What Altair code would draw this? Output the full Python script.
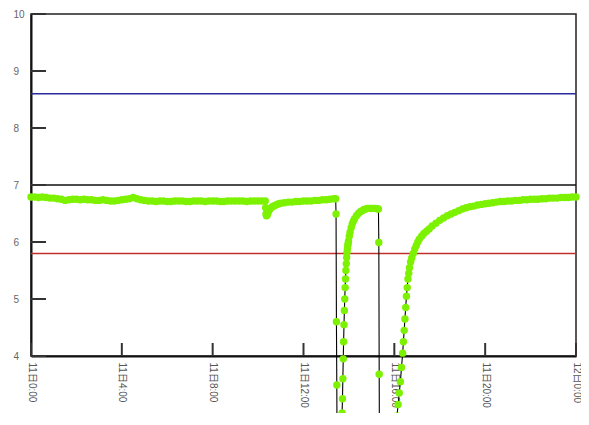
import altair as alt
import pandas as pd

# time in minutes from 11日0:00, dissolved oxygen value
minutes = [
    0, 10, 20, 30, 40, 50, 60, 70, 80, 90, 100, 110, 120, 130, 140, 150, 160, 170, 180, 190,
    200, 210, 220, 230, 240, 250, 260, 270, 280, 290, 300, 310, 320, 330, 340, 350, 360, 370,
    380, 390, 400, 410, 420, 430, 440, 450, 460, 470, 480, 490, 500, 510, 520, 530, 540, 550,
    560, 570, 580, 590, 600, 610, 619,
    620, 621, 622, 624, 626, 628, 632, 636, 640, 645, 650, 655, 660, 670, 680, 690, 700, 710,
    720, 730, 740, 750, 760, 770, 780, 790, 800, 805,
    806, 807, 808, 809, 811, 813, 815, 817, 819, 821, 822, 823, 824, 825, 826, 827, 828, 829,
    830, 831, 832, 833, 834, 835, 836, 837, 838, 839, 841, 843, 846, 849, 852, 855, 860, 865,
    870, 875, 880, 885, 890, 895, 900, 905, 910, 915, 918,
    919, 920, 921, 930, 940, 950, 958, 962, 965, 967, 970, 973, 976, 979, 982, 984, 986, 988,
    990, 992, 994, 996, 998, 1000, 1003, 1006, 1010, 1014, 1018, 1022, 1026, 1032, 1038, 1045,
    1052, 1060, 1070, 1080, 1090, 1100, 1110, 1120, 1130, 1140, 1150, 1160, 1170, 1180, 1190,
    1200, 1210, 1220, 1230, 1240, 1250, 1260, 1270, 1280, 1290, 1300, 1310, 1320, 1330, 1340,
    1350, 1360, 1370, 1380, 1390, 1400, 1410, 1420, 1430, 1440,
]
do_values = [
    6.79, 6.79, 6.78, 6.79, 6.78, 6.77, 6.77, 6.76, 6.75, 6.73, 6.74, 6.75, 6.75, 6.74, 6.75,
    6.74, 6.74, 6.73, 6.73, 6.74, 6.73, 6.72, 6.72, 6.73, 6.74, 6.75, 6.76, 6.78, 6.76, 6.74,
    6.73, 6.72, 6.72, 6.71, 6.72, 6.72, 6.71, 6.71, 6.72, 6.72, 6.72, 6.71, 6.71, 6.72, 6.72,
    6.72, 6.71, 6.72, 6.72, 6.72, 6.71, 6.71, 6.72, 6.72, 6.72, 6.72, 6.72, 6.71, 6.72, 6.72,
    6.72, 6.72, 6.72,
    6.60, 6.49, 6.46, 6.47, 6.51, 6.55, 6.58, 6.61, 6.63, 6.64, 6.66, 6.67, 6.68, 6.69, 6.70,
    6.70, 6.71, 6.71, 6.72, 6.72, 6.72, 6.73, 6.73, 6.74, 6.74, 6.75, 6.76, 6.76,
    6.49, 4.60, 3.49, 1.8, 1.2, 1.1, 1.6, 2.3, 2.6, 2.85, 3.0, 3.25, 3.6, 3.95, 4.25, 4.55,
    4.8, 5.0, 5.2, 5.35, 5.5, 5.62, 5.73, 5.82, 5.88, 5.94, 5.98, 6.02, 6.10, 6.17, 6.25,
    6.32, 6.37, 6.41, 6.46, 6.50, 6.53, 6.55, 6.57, 6.58, 6.59, 6.59, 6.59, 6.59, 6.59, 6.58,
    6.58,
    5.99, 3.68, 1.8, 1.0, 0.9, 1.1, 1.8, 2.4, 2.8, 2.95, 3.15, 3.35, 3.55, 3.8, 4.05, 4.25,
    4.45, 4.65, 4.85, 5.05, 5.2, 5.35, 5.45, 5.55, 5.65, 5.72, 5.8, 5.88, 5.94, 6.0, 6.05,
    6.10, 6.15, 6.19, 6.23, 6.28, 6.33, 6.38, 6.42, 6.46, 6.49, 6.52, 6.55, 6.58, 6.60, 6.62,
    6.63, 6.65, 6.66, 6.67, 6.68, 6.69, 6.70, 6.71, 6.71, 6.72, 6.72, 6.73, 6.73, 6.74, 6.74,
    6.75, 6.75, 6.75, 6.76, 6.76, 6.77, 6.77, 6.77, 6.78, 6.78, 6.78, 6.79, 6.79,
]

ref_values = [8.6, 7.0, 5.8]
ref_colors = ["#2a2a9c", "#111111", "#c0302c"]
y_ticks = [4, 5, 6, 7, 8, 9, 10]
x_ticks = [0, 240, 480, 720, 960, 1200, 1440]

W, H = 545, 342

df = pd.DataFrame({"t": minutes, "do": do_values})
ref = pd.DataFrame({"v": ref_values, "c": ref_colors})
yt = pd.DataFrame({"v": y_ticks})
xt = pd.DataFrame({"t": x_ticks})

xscale = alt.Scale(domain=[0, 1440], nice=False, zero=False)
yscale = alt.Scale(domain=[4, 10], nice=False, zero=False)

FONT = "Liberation Sans, Noto Sans CJK JP, sans-serif"

x_axis = alt.Axis(
    values=x_ticks,
    labelExpr="datum.value == 1440 ? '12日0:00' : '11日' + (datum.value / 60) + ':00'",
    labelAngle=90,
    labelAlign="left",
    labelBaseline="middle",
    ticks=False,
    labelPadding=6,
    grid=False,
    title=None,
    domainColor="#111111",
    domainWidth=2,
    labelFontSize=10,
    labelColor="#555555",
    labelFont=FONT,
    labelOverlap=False,
)
y_axis = alt.Axis(
    values=y_ticks,
    ticks=False,
    labelAlign="left",
    labelPadding=18,
    grid=False,
    title=None,
    domainColor="#111111",
    domainWidth=2,
    labelFontSize=10,
    labelColor="#666666",
    labelFont=FONT,
)

X = lambda f: alt.X(f, scale=xscale, axis=x_axis)
Y = lambda f: alt.Y(f, scale=yscale, axis=y_axis)

refs = alt.Chart(ref).mark_rule(strokeWidth=1.5).encode(
    y=Y("v:Q"),
    color=alt.Color("c:N", scale=None),
)

ytick_rules = alt.Chart(yt).mark_rule(color="#333333", strokeWidth=2).encode(
    y=Y("v:Q"),
    x=alt.value(0),
    x2=alt.value(15),
)

xtick_rules = alt.Chart(xt).mark_rule(color="#333333", strokeWidth=2).encode(
    x=X("t:Q"),
    y=alt.value(H - 13),
    y2=alt.value(H),
)

line = alt.Chart(df).mark_line(color="black", strokeWidth=1.1).encode(
    x=X("t:Q"),
    y=Y("do:Q"),
    order="t:Q",
)

points = alt.Chart(df).mark_circle(size=55, color="#7CF200", opacity=1).encode(
    x=X("t:Q"),
    y=Y("do:Q"),
)

chart = alt.layer(refs, ytick_rules, xtick_rules, line, points).properties(
    width=W,
    height=H,
    autosize=alt.AutoSizeParams(type="none"),
    padding={"left": 23, "top": 6, "right": 5, "bottom": 57},
    background="white",
).configure_view(stroke="#222222", strokeWidth=1.5)

chart.save("out.html", embed_options={"renderer": "svg", "actions": False})
